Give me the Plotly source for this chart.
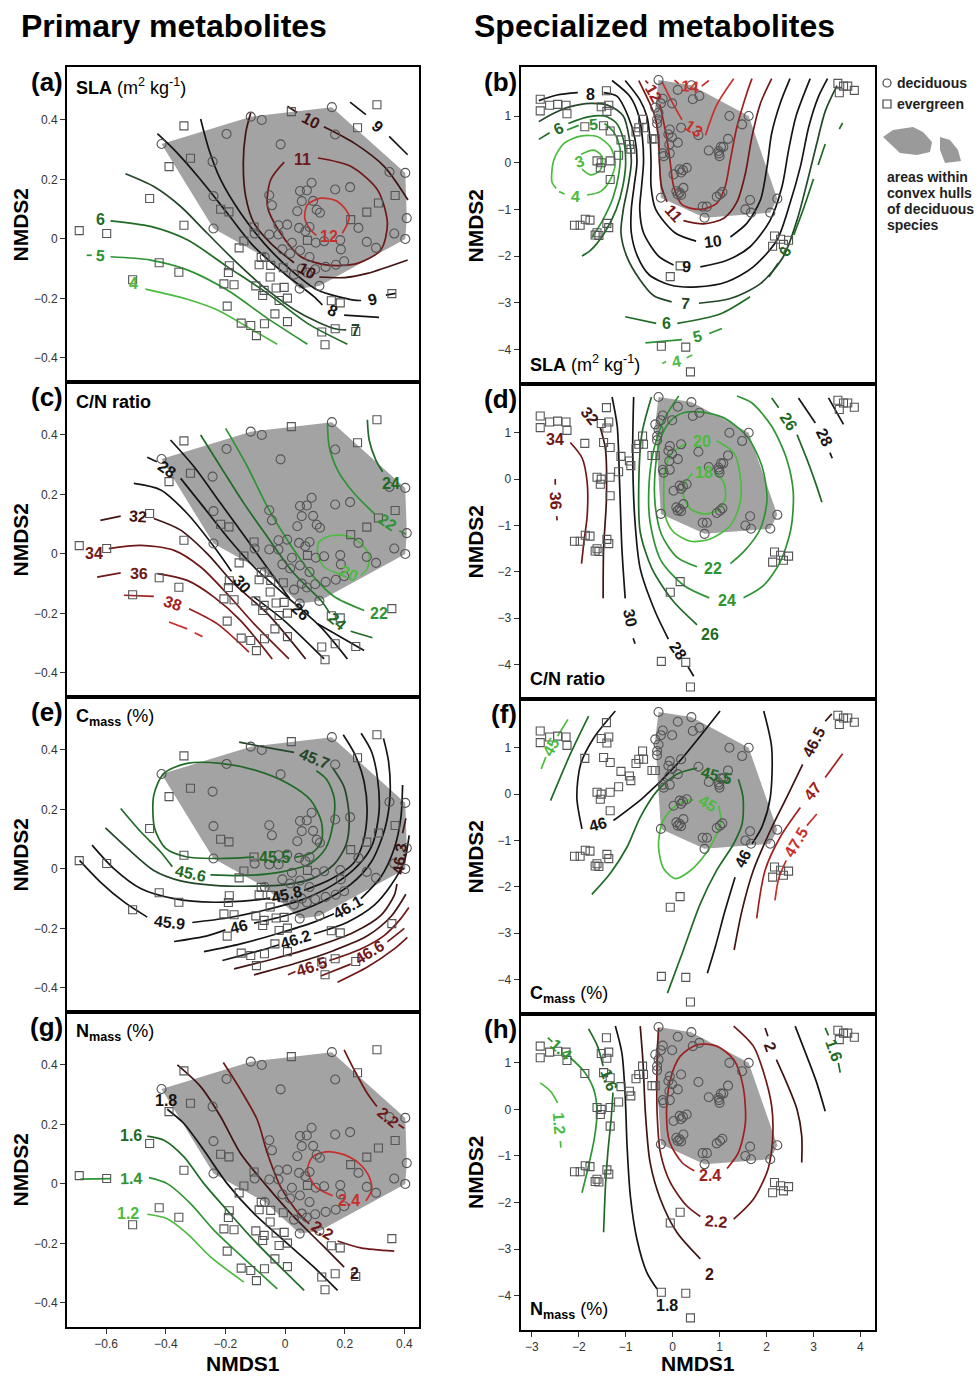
import math
import plotly.graph_objects as go

# ======================= DATA =======================
# --- primary metabolites ordination (left column) ---
PRIM_DECID = [(-0.414,0.319),(-0.115,0.411),(-0.078,0.400),(0.157,0.443),(-0.196,0.353),(-0.015,0.318),
              (0.168,0.351),(-0.243,0.260),(0.403,0.222),(0.350,0.225),(0.089,0.189),(0.050,0.161),
              (0.073,0.163),(0.168,0.166),(0.218,0.174),(-0.053,0.147),(-0.044,0.113),(0.056,0.127),
              (0.094,0.128),(0.041,0.093),(0.106,0.098),(0.117,0.088),(-0.240,0.144),(-0.240,0.035),
              (0.408,0.070),(0.403,0.0),(0.366,0.018),(0.246,0.037),(0.305,-0.030),(-0.022,0.046),
              (0.007,0.048),(0.047,0.037),(0.068,0.026),(0.082,0.040),(-0.053,0.015),(-0.022,0.015),
              (-0.102,0.018),(0.023,-0.013),(-0.009,-0.035),(0.017,-0.049),(0.050,-0.039),(0.103,-0.013),
              (0.131,-0.008),(0.185,-0.004),(0.187,-0.035),(0.274,-0.010),(-0.068,-0.061),(0.082,-0.061),
              (0.056,-0.100),(0.101,-0.102),(0.136,-0.094),(0.170,-0.087),(0.198,-0.075),(0.030,-0.120),
              (0.073,-0.113),(0.049,-0.167),(0.115,-0.158)]
PRIM_EVER = [(-0.690,0.028),(-0.598,0.018),(-0.511,-0.137),(-0.422,-0.080),(-0.356,-0.112),(-0.339,0.046),
             (-0.454,0.136),(-0.389,0.243),(-0.317,0.271),(-0.339,0.380),(0.021,0.428),(0.243,0.374),
             (0.308,0.451),(0.369,0.146),(0.313,0.121),(0.274,0.090),(0.220,0.065),(-0.216,0.100),
             (-0.188,0.091),(-0.104,0.040),(-0.138,-0.007),(-0.154,-0.030),(-0.080,-0.062),(-0.087,-0.087),
             (-0.048,-0.089),(-0.006,-0.097),(-0.187,-0.090),(-0.190,-0.113),(-0.205,-0.151),(-0.171,-0.154),
             (-0.098,-0.158),(-0.070,-0.173),(-0.075,-0.190),(-0.050,-0.128),(-0.030,-0.165),(-0.003,-0.163),
             (-0.020,-0.207),(0.008,-0.199),(-0.194,-0.226),(-0.034,-0.252),(-0.147,-0.283),(-0.115,-0.291),
             (-0.096,-0.325),(-0.069,-0.285),(0.008,-0.278),(0.123,-0.313),(0.168,-0.302),(0.134,-0.356),
             (0.237,-0.311),(0.155,-0.208),(0.185,-0.215),(0.358,-0.184),(0.075,-0.005)]
PRIM_HULL = [(-0.414,0.319),(-0.115,0.411),(0.157,0.443),(0.403,0.222),(0.408,0.070),(0.403,0.0),
             (0.115,-0.158),(0.049,-0.167),(-0.068,-0.061),(-0.240,0.035)]

# --- specialized metabolites ordination (right column) ---
SPEC_DECID = [(-0.30,1.77),(0.11,1.56),(0.40,1.66),(0.57,1.43),(0.43,1.36),(-0.21,1.37),(-0.25,1.27),
              (-0.37,1.18),(-0.01,1.27),(-0.30,1.07),(-0.33,0.93),(-0.33,0.84),(-0.06,0.71),(-0.09,0.61),
              (-0.01,0.54),(0.18,0.75),(0.11,0.43),(-0.07,0.39),(0.55,0.59),(1.21,1.0),(1.62,1.0),
              (1.48,0.82),(1.18,0.51),(0.77,0.26),(1.03,0.34),(1.08,0.34),(0.98,0.25),(1.0,0.14),
              (0.99,0.2),(-0.21,0.2),(-0.19,0.14),(-0.06,0.2),(0.02,-0.25),(0.15,-0.14),(0.22,-0.16),
              (0.30,-0.11),(0.18,-0.21),(0.08,-0.61),(0.15,-0.64),(0.23,-0.54),(0.18,-0.69),(0.11,-0.68),
              (-0.25,-0.75),(0.64,-0.94),(0.73,-0.94),(0.68,-1.18),(1.06,-0.63),(0.94,-0.73),(1.01,-0.68),
              (1.65,-0.8),(1.67,-1.07),(1.55,-1.0),(2.08,-1.07),(2.23,-0.77)]
SPEC_EVER = [(-2.82,1.36),(-2.82,1.11),(-2.62,1.23),(-2.45,1.25),(-2.27,1.23),(-2.25,1.05),(-1.41,1.54),
             (-1.52,1.20),(-1.36,1.23),(-1.40,1.10),(-1.87,0.77),(-1.47,0.79),(-1.33,0.68),(-1.10,0.49),
             (-0.92,0.39),(-0.89,0.29),(-1.15,0.16),(-1.61,0.04),(-1.52,0.0),(-1.54,-0.11),(-1.33,0.04),
             (-1.33,-0.36),(-0.78,0.66),(-0.72,0.75),(-0.64,0.93),(-0.62,0.75),(-0.44,0.51),(-0.37,0.51),
             (-2.09,-1.34),(-1.97,-1.34),(-1.86,-1.21),(-1.76,-1.23),(-1.61,-1.5),(-1.57,-1.56),(-1.65,-1.55),
             (-1.40,-1.30),(-1.36,-1.39),(2.17,-1.57),(2.30,-1.64),(2.47,-1.66),(2.36,-1.75),(2.13,-1.79),
             (0.16,-2.21),(-0.05,-2.44),(-0.24,-3.93),(0.28,-3.95),(0.38,-4.48),(3.52,1.70),(3.64,1.64),
             (3.73,1.64),(3.55,1.50),(3.87,1.55)]
SPEC_HULL = [(-0.30,1.77),(0.40,1.66),(1.62,1.0),(2.23,-0.77),(2.08,-1.07),(0.68,-1.18),(-0.25,-0.75),(-0.37,1.18)]

# --- contour lines (None = break) ---
A_LINES = {
 "4": [(-0.468,-0.169),(-0.328,-0.203),(-0.227,-0.239),(-0.126,-0.296),(-0.026,-0.354)],
 "5": [(-0.665,-0.055),(-0.648,-0.055),None,(-0.585,-0.060),(-0.451,-0.071),(-0.328,-0.104),(-0.194,-0.172),(-0.059,-0.267),(0.075,-0.354)],
 "6": [(-0.585,0.061),(-0.451,0.042),(-0.328,-0.003),(-0.194,-0.093),(-0.059,-0.183),(0.075,-0.284),(0.209,-0.354)],
 "7": [(-0.535,0.219),(-0.440,0.176),(-0.350,0.109),(-0.261,0.019),(-0.171,-0.071),(-0.059,-0.172),(0.053,-0.251),(0.164,-0.301),(0.205,-0.306)],
 "8": [(-0.428,0.354),(-0.372,0.300),(-0.283,0.199),(-0.194,0.087),(-0.104,-0.026),(-0.003,-0.116),(0.097,-0.194),(0.125,-0.222),None,(0.198,-0.256),(0.315,-0.264)],
 "9": [(-0.283,0.403),(-0.255,0.300),(-0.216,0.199),(-0.149,0.087),(-0.070,-0.015),(0.019,-0.104),(0.109,-0.172),(0.232,-0.206),(0.255,-0.207),None,(0.338,-0.189),(0.371,-0.183),
       None,(0.218,0.460),(0.271,0.418),None,(0.349,0.345),(0.411,0.283)],
 "10": [(-0.115,0.424),(-0.132,0.356),(-0.140,0.255),(-0.132,0.143),(-0.104,0.053),(-0.048,-0.015),(0.030,-0.080),None,(0.115,-0.128),(0.200,-0.130),(0.276,-0.116),(0.411,-0.071),
        None,(0.008,0.446),(0.040,0.425),None,(0.130,0.377),(0.232,0.322),(0.332,0.244),(0.412,0.131)],
 "11": [(0.110,0.272),(0.220,0.244),(0.310,0.165),(0.343,0.053),(0.321,-0.037),(0.243,-0.082),(0.142,-0.088),(0.053,-0.060),(-0.015,0.019),(-0.059,0.109),(-0.048,0.199),(-0.003,0.258)],
 "12": [(0.192,0.019),(0.215,0.075),(0.176,0.126),(0.120,0.137),(0.075,0.115),(0.066,0.070),(0.086,0.030),(0.105,0.012)],
}
A_LABELS = {"4": [(-0.507,-0.150)], "5": [(-0.619,-0.057)], "6": [(-0.619,0.064)], "7": [(0.237,-0.309)],
            "8": [(0.158,-0.242)], "9": [(0.293,-0.205),(0.310,0.378)], "10": [(0.072,-0.107),(0.086,0.398)],
            "11": [(0.058,0.266)], "12": [(0.148,0.008)]}

B_LINES = {
 "3": [(-1.95,0.18),(-1.68,0.27),(-1.50,0.13),(-1.54,-0.16),(-1.75,-0.26),(-1.93,-0.14)],
 "4": [(-2.48,-0.55),(-2.57,-0.41),(-2.53,0.06),(-2.32,0.41),(-1.96,0.57),(-1.61,0.56),(-1.33,0.34),(-1.22,-0.01),(-1.33,-0.37),(-1.54,-0.62),(-1.82,-0.69),None,(-2.30,-0.67),(-2.42,-0.62),
       None,(-0.22,-4.30),(-0.14,-4.26),None,(0.30,-4.18),(0.42,-4.12)],
 "5": [(-2.25,0.70),(-2.00,0.80),None,(-1.45,0.84),(-1.25,0.65),(-1.12,0.30),(-1.14,-0.20),(-1.27,-0.75),(-1.50,-1.25),(-1.72,-1.60),
       None,(-0.58,-3.86),(0.20,-3.79),None,(0.78,-3.66),(1.05,-3.55)],
 "6": [(-2.85,0.50),(-2.62,0.64),None,(-2.22,0.84),(-1.80,0.98),(-1.45,1.00),(-1.20,0.85),(-1.05,0.50),(-1.00,0.00),(-1.06,-0.50),(-1.20,-1.00),(-1.45,-1.50),(-1.75,-1.88),(-1.93,-2.00),
       None,(-1.01,-3.30),(-0.35,-3.44),None,(0.10,-3.44),(1.01,-3.24),(1.65,-2.87),
       None,(2.05,-2.45),(2.25,-2.15),None,(2.58,-1.55),(2.80,-0.95),(3.00,-0.35),None,(3.10,-0.05),(3.25,0.40),None,(3.55,0.72),(3.62,0.85)],
 "7": [(-2.85,0.88),(-2.53,1.06),(-2.18,1.20),(-1.75,1.27),(-1.35,1.22),(-1.05,1.00),(-0.92,0.50),(-0.88,0.00),(-0.95,-0.50),(-1.05,-1.00),(-1.10,-1.50),(-0.98,-2.00),(-0.70,-2.50),(-0.40,-2.85),(-0.02,-2.98),
       None,(0.56,-3.01),(1.23,-2.91),(1.87,-2.59),(2.36,-2.01),(2.65,-1.23),(2.86,-0.44),(3.07,0.41),(3.25,1.10),(3.50,1.65)],
 "8": [(-2.85,1.33),(-2.46,1.45),(-2.02,1.50),None,(-1.47,1.50),(-1.18,1.42),(-0.95,1.00),(-0.80,0.50),(-0.76,0.00),(-0.82,-0.50),(-0.88,-1.00),(-0.88,-1.50),(-0.75,-2.00),(-0.50,-2.40),(-0.05,-2.62),
       (0.52,-2.66),(1.16,-2.55),(1.72,-2.23),(2.22,-1.66),(2.50,-0.87),(2.72,-0.09),(2.90,0.77),(3.10,1.40),(3.30,1.80)],
 "9": [(-1.29,1.76),(-0.90,1.41),(-0.72,1.00),(-0.64,0.50),(-0.62,0.00),(-0.66,-0.50),(-0.70,-1.00),(-0.62,-1.50),(-0.30,-2.00),(0.02,-2.19),
       None,(0.59,-2.23),(1.16,-2.09),(1.65,-1.80),(2.08,-1.23),(2.33,-0.51),(2.47,0.27),(2.63,1.00),(2.93,1.80)],
 "10": [(-1.01,1.76),(-0.70,1.35),(-0.55,1.00),(-0.48,0.50),(-0.46,0.00),(-0.46,-0.50),(-0.36,-1.00),(0.05,-1.50),(0.50,-1.68),
        None,(1.23,-1.59),(1.58,-1.30),(1.87,-0.80),(2.01,-0.09),(2.11,0.63),(2.29,1.27),(2.50,1.80)],
 "11": [(-0.72,1.76),(-0.50,1.30),(-0.38,1.00),(-0.30,0.50),(-0.28,0.00),(-0.24,-0.50),(-0.12,-0.84),
        None,(0.23,-1.24),(0.66,-1.31),(1.09,-1.19),(1.37,-0.84),(1.55,-0.23),(1.69,0.56),(1.87,1.27),(2.11,1.80)],
 "12": [(-0.58,1.76),(-0.52,1.70),None,(-0.27,1.25),(-0.12,0.50),(-0.05,0.00),(0.02,-0.50),(0.20,-0.90),(0.60,-1.00),(0.94,-0.87),(1.12,-0.51),(1.23,0.06),(1.37,0.77),(1.58,1.49),(1.69,1.80)],
 "13": [(-0.23,1.74),(0.02,1.24),(0.20,0.92),None,(0.70,0.59),(0.94,1.24),(1.30,1.80)],
 "14": [(0.04,1.77),(0.13,1.69),None,(0.62,1.64),(0.77,1.76)],
}
B_LABELS = {"3": [(-1.98,0.02)], "4": [(-2.07,-0.73),(0.09,-4.26)], "5": [(-1.68,0.81),(0.52,-3.73)],
            "6": [(-2.43,0.74),(-0.12,-3.44),(2.40,-1.91)], "7": [(0.27,-3.01)], "8": [(-1.75,1.46)],
            "9": [(0.30,-2.23)], "10": [(0.87,-1.69)], "11": [(0.02,-1.09)], "12": [(-0.40,1.49)],
            "13": [(0.45,0.74)], "14": [(0.36,1.64)]}

C_LINES = {
 "20": [(0.185,-0.068),(0.131,-0.044),(0.109,0.001),(0.114,0.040),(0.153,0.061),(0.209,0.060),(0.254,0.035),(0.282,-0.004),(0.276,-0.049),(0.254,-0.072)],
 "22": [(-0.199,0.422),(-0.126,0.293),(-0.059,0.158),(0.008,0.046),(0.097,-0.078),(0.164,-0.143),(0.265,-0.190),
        None,(0.142,0.439),(0.148,0.361),(0.176,0.282),(0.232,0.203),(0.300,0.135),None,(0.383,0.078),(0.405,0.066)],
 "24": [(-0.283,0.400),(-0.216,0.293),(-0.138,0.170),(-0.059,0.057),(0.030,-0.066),(0.120,-0.156),(0.150,-0.200),None,(0.220,-0.260),(0.293,-0.282),
        None,(0.276,0.451),(0.282,0.383),(0.304,0.316),(0.327,0.276)],
 "26": [(-0.384,0.383),(-0.305,0.293),(-0.216,0.170),(-0.126,0.046),(-0.037,-0.078),(0.015,-0.150),None,(0.109,-0.235),(0.265,-0.325)],
 "28": [(-0.462,0.325),(-0.430,0.310),None,(-0.350,0.254),(-0.283,0.170),(-0.194,0.057),(-0.104,-0.044),(0.008,-0.145),(0.120,-0.246),(0.209,-0.353)],
 "30": [(-0.507,0.237),(-0.417,0.215),(-0.328,0.136),(-0.238,0.024),(-0.180,-0.058),None,(-0.104,-0.145),(-0.003,-0.224),(0.131,-0.353)],
 "32": [(-0.619,0.113),(-0.551,0.127),None,(-0.440,0.119),(-0.350,0.080),(-0.261,0.001),(-0.171,-0.100),(-0.059,-0.201),(0.069,-0.353)],
 "34": [(-0.591,0.018),(-0.484,0.029),(-0.372,0.012),(-0.283,-0.044),(-0.194,-0.134),(-0.104,-0.235),(0.013,-0.353)],
 "36": [(-0.630,-0.078),(-0.551,-0.064),None,(-0.428,-0.066),(-0.328,-0.089),(-0.238,-0.145),(-0.149,-0.224),(-0.043,-0.353)],
 "38": [(-0.540,-0.139),(-0.440,-0.143),None,(-0.322,-0.184),(-0.227,-0.235),(-0.121,-0.330)],
 "40": [(-0.389,-0.229),(-0.328,-0.252),None,(-0.303,-0.265),(-0.277,-0.278)],
}
C_LABELS = {"20": [(0.215,-0.066)], "22": [(0.315,-0.201),(0.343,0.104)], "24": [(0.175,-0.228),(0.355,0.237)],
            "26": [(0.052,-0.192)], "28": [(-0.395,0.284)], "30": [(-0.143,-0.102)], "32": [(-0.493,0.125)],
            "34": [(-0.641,0.001)], "36": [(-0.490,-0.066)], "38": [(-0.375,-0.165)]}

D_LINES = {
 "18": [(0.87,0.18),(1.09,-0.07),(1.12,-0.43),(0.94,-0.68),(0.66,-0.75),(0.38,-0.64),(0.23,-0.36),(0.27,-0.07),(0.42,0.12)],
 "20": [(0.94,0.82),(1.30,0.57),(1.44,0.07),(1.44,-0.50),(1.23,-1.00),(0.80,-1.29),(0.38,-1.34),(0.02,-1.14),(-0.16,-0.79),(-0.19,-0.29),(-0.16,0.21),(-0.01,0.57),(0.30,0.76)],
 "22": [(1.23,-1.82),(1.51,-1.57),(1.87,-1.07),(2.01,-0.43),(1.90,0.29),(1.58,0.93),(1.09,1.32),(0.66,1.44),(0.23,1.43),(-0.05,1.25),(-0.26,0.86),(-0.37,0.21),(-0.37,-0.57),(-0.23,-1.21),(0.09,-1.68),(0.52,-1.89)],
 "24": [(0.13,1.79),(-0.18,1.29),(-0.40,0.64),(-0.50,-0.07),(-0.48,-0.93),(-0.25,-1.75),(0.25,-2.30),(0.78,-2.56),None,(1.51,-2.56),(1.94,-2.29),(2.29,-1.79),(2.52,-1.07),(2.57,-0.29),(2.43,0.43),(2.11,1.14),(1.69,1.64),(1.37,1.79)],
 "26": [(-0.45,1.77),(-0.65,1.00),(-0.72,-0.07),(-0.69,-1.14),(-0.44,-1.93),(0.02,-2.64),(0.52,-3.14),
        None,(2.11,1.75),(2.26,1.54),None,(2.65,0.96),(2.86,0.43),(3.04,-0.07),(3.18,-0.50)],
 "28": [(-0.83,1.77),(-0.85,0.64),(-0.81,-0.79),(-0.69,-1.93),(-0.37,-2.86),(-0.09,-3.45),None,(0.33,-4.05),(0.45,-4.25),
        None,(2.68,1.75),(3.04,1.21),None,(3.35,0.57),(3.40,0.45)],
 "30": [(-1.29,1.77),(-1.18,1.14),(-1.13,-0.07),(-1.08,-1.50),(-1.01,-2.57),None,(-0.84,-3.43),(-0.80,-3.55),None,(3.32,1.75),(3.64,1.18)],
 "32": [(-1.91,1.57),None,(-1.54,1.11),(-1.43,0.64),(-1.41,-0.43),(-1.47,-1.50),(-1.48,-2.57)],
 "34": [(-2.18,0.79),(-1.93,0.46),(-1.82,-0.07),(-1.82,-0.79),(-1.89,-1.36),(-1.94,-1.82)],
 "36": [(-2.50,0.00),(-2.50,-0.12),None,(-2.47,-0.80),(-2.46,-0.89)],
}
D_LABELS = {"18": [(0.66,0.14)], "20": [(0.62,0.80)], "22": [(0.87,-1.93)], "24": [(1.16,-2.61)],
            "26": [(0.80,-3.36),(2.47,1.25)], "28": [(0.11,-3.70),(3.23,0.89)], "30": [(-0.90,-3.00)],
            "32": [(-1.75,1.36)], "34": [(-2.50,0.86)], "36": [(-2.49,-0.46)]}

E_LINES = {
 "45.5": [(-0.104,0.040),(-0.238,0.035),(-0.328,0.040),(-0.400,0.069),(-0.437,0.136),(-0.440,0.248),(-0.406,0.321),(-0.328,0.355),(-0.216,0.355),(-0.104,0.333),(0.008,0.288),(0.086,0.231),(0.122,0.158),(0.122,0.091),(0.092,0.055),(0.030,0.038)],
 "45.6": [(-0.551,0.203),(-0.484,0.125),(-0.417,0.057),(-0.378,0.007),None,(-0.250,-0.020),(-0.126,-0.022),(-0.003,-0.008),(0.086,0.018),(0.136,0.069),(0.160,0.147),(0.165,0.237),(0.140,0.300),(0.105,0.330)],
 "45.7": [(-0.154,0.426),(-0.059,0.408),(0.030,0.392),None,(0.159,0.340),(0.198,0.275),(0.215,0.170),(0.204,0.080),(0.164,0.015),(0.097,-0.030),(0.008,-0.052),(-0.104,-0.058),(-0.238,-0.055),(-0.350,-0.040),(-0.440,-0.005),(-0.529,0.070),(-0.602,0.138)],
 "45.8": [(-0.647,0.080),(-0.574,0.001),(-0.484,-0.066),(-0.372,-0.100),(-0.238,-0.112),(-0.104,-0.105),(-0.050,-0.098),None,(0.064,-0.072),(0.153,-0.035),(0.230,0.020),(0.262,0.091),(0.275,0.192),(0.265,0.293),(0.235,0.383),(0.195,0.451)],
 "45.9": [(-0.689,0.029),(-0.619,-0.044),(-0.540,-0.111),(-0.462,-0.162),None,(-0.311,-0.180),(-0.194,-0.165),(-0.070,-0.139),(0.053,-0.105),(0.164,-0.052),(0.243,0.010),(0.292,0.080),(0.315,0.192),(0.310,0.304),(0.290,0.394),(0.255,0.456)],
 "46": [(-0.372,-0.244),(-0.261,-0.225),(-0.200,-0.205),None,(-0.104,-0.182),(0.008,-0.155),(0.120,-0.112),(0.220,-0.052),(0.290,0.025),(0.335,0.136),(0.352,0.248),(0.347,0.361),(0.330,0.439)],
 "46.1": [(-0.272,-0.278),(-0.149,-0.252),(-0.026,-0.218),(0.097,-0.179),(0.164,-0.151),None,(0.254,-0.100),(0.321,-0.027),(0.366,0.069),(0.388,0.170),(0.394,0.282)],
 "46.2": [(-0.210,-0.308),(-0.082,-0.274),(-0.020,-0.255),None,(0.097,-0.218),(0.209,-0.179),(0.299,-0.122),(0.355,-0.055),(0.399,0.024),(0.416,0.113)],
 "46.3": [(-0.171,-0.336),(-0.037,-0.302),(0.097,-0.263),(0.232,-0.212),(0.321,-0.156),(0.366,-0.089),(0.375,-0.050),None,(0.394,0.120),(0.405,0.170)],
 "46.4": [(-0.104,-0.356),(0.030,-0.319),(0.164,-0.274),(0.276,-0.225),(0.355,-0.160),(0.405,-0.085)],
 "46.5": [(0.010,-0.356),(0.035,-0.345),None,(0.148,-0.308),(0.254,-0.269),(0.332,-0.224),(0.388,-0.167),(0.415,-0.130)],
 "46.6": [(0.120,-0.360),(0.220,-0.320),None,(0.343,-0.245),(0.400,-0.200)],
 "46.7": [(0.176,-0.381),(0.276,-0.330),(0.366,-0.269),(0.410,-0.230)],
}
E_LABELS = {"45.5": [(-0.037,0.038)], "45.6": [(-0.317,-0.015)], "45.7": [(0.097,0.372)],
            "45.8": [(0.005,-0.085)], "45.9": [(-0.389,-0.180)], "46": [(-0.154,-0.195)],
            "46.1": [(0.209,-0.128)], "46.2": [(0.035,-0.237)], "46.3": [(0.385,0.035)],
            "46.5": [(0.090,-0.328)], "46.6": [(0.282,-0.282)]}

F_LINES = {
 "45": [(-2.80,0.54),(-2.70,0.80),None,(-2.45,1.25),(-2.23,1.61),
        None,(0.98,-0.25),(1.03,-0.57),(0.94,-0.86),(0.70,-1.29),(0.34,-1.68),(0.06,-1.82),(-0.19,-1.61),(-0.30,-1.14),(-0.23,-0.64),(-0.01,-0.32),(0.27,-0.14),(0.45,-0.13)],
 "45.5": [(-2.60,-0.14),(-2.18,0.86),(-1.79,1.68),
          None,(-1.72,-2.16),(-1.33,-1.71),(-0.97,-1.14),(-0.69,-0.50),(-0.33,0.07),(0.09,0.43),(0.52,0.56),None,(1.40,0.32),(1.50,-0.07),(1.48,-0.64),(1.30,-1.07),(0.94,-1.64),(0.59,-2.36),(0.23,-3.36),(-0.11,-4.29)],
 "46": [(-1.22,1.79),(-1.68,1.21),(-1.96,0.64),(-2.04,-0.07),(-1.93,-0.75),None,(-1.26,-0.57),(-0.62,-0.07),(0.09,0.64),(1.01,1.79),
        None,(1.94,1.79),(2.11,1.00),(2.08,-0.07),(1.90,-0.71),(1.69,-1.07),None,(1.33,-1.79),(1.12,-2.50),(0.91,-3.29),(0.74,-3.86)],
 "46.5": [(3.39,1.73),(3.25,1.57),None,(2.77,0.64),(2.43,-0.07),(2.08,-0.79),(1.72,-1.64),(1.48,-2.50),(1.31,-3.36)],
 "47": [(3.62,0.87),(3.25,0.36),None,(2.72,-0.29),(2.29,-0.93),(1.97,-1.64),(1.79,-2.68)],
 "47.5": [(3.07,-0.43),(2.86,-0.68),None,(2.42,-1.43),(2.26,-1.82),(2.18,-2.29)],
}
F_LABELS = {"45": [(-2.58,1.02),(0.75,-0.20)], "45.5": [(0.93,0.41)], "46": [(-1.60,-0.66),(1.50,-1.39)],
            "46.5": [(3.00,1.12)], "47": [(2.98,0.05)], "47.5": [(2.63,-1.05)]}

G_LINES = {
 "1.2": [(-0.462,-0.102),(-0.395,-0.117),(-0.328,-0.167),(-0.249,-0.246),(-0.138,-0.330)],
 "1.4": [(-0.686,0.016),(-0.585,0.018),None,(-0.456,0.021),(-0.395,0.001),(-0.317,-0.066),(-0.238,-0.156),(-0.149,-0.240),(-0.026,-0.353)],
 "1.6": [(-0.462,0.161),(-0.406,0.147),(-0.339,0.091),(-0.272,0.001),(-0.194,-0.089),(-0.104,-0.190),(0.064,-0.358)],
 "1.8": [(-0.395,0.251),(-0.339,0.203),(-0.272,0.113),(-0.194,0.001),(-0.104,-0.100),(0.008,-0.201),(0.097,-0.280),(0.176,-0.358)],
 "2": [(-0.361,0.400),(-0.283,0.327),(-0.216,0.226),(-0.149,0.102),(-0.059,-0.010),(0.030,-0.111),(0.120,-0.201),(0.198,-0.280)],
 "2.2": [(-0.207,0.408),(-0.149,0.316),(-0.093,0.215),(-0.059,0.102),(-0.015,-0.010),(0.041,-0.094),(0.081,-0.134),None,(0.176,-0.192),(0.254,-0.215),(0.366,-0.226),
         None,(0.198,0.451),(0.232,0.383),(0.276,0.304),(0.308,0.260),None,(0.380,0.200),(0.399,0.187)],
 "2.4": [(0.160,-0.040),(0.103,-0.010),(0.075,0.046),(0.092,0.091),(0.136,0.108),(0.192,0.100),(0.248,0.069),(0.282,0.024),(0.290,-0.021),(0.271,-0.057)],
}
G_LABELS = {"1.2": [(-0.525,-0.100)], "1.4": [(-0.518,0.018)], "1.6": [(-0.518,0.164)], "1.8": [(-0.398,0.282)],
            "2": [(0.232,-0.302)], "2.2": [(0.125,-0.158),(0.346,0.224)], "2.4": [(0.215,-0.057)]}

H_LINES = {
 "1.2": [(-2.82,0.57),(-2.60,0.39),(-2.45,0.14),None,(-2.39,-0.68),(-2.38,-0.82)],
 "1.4": [(-2.66,1.54),(-2.56,1.45),None,(-2.18,1.11),(-1.89,0.82),(-1.68,0.43),(-1.61,-0.07),(-1.67,-0.64),(-1.79,-1.21),(-1.93,-1.79)],
 "1.6": [(-1.79,1.73),(-1.60,1.36),(-1.48,0.93),None,(-1.27,0.36),(-1.31,-0.21),(-1.38,-0.93),(-1.43,-1.64),(-1.47,-2.64),
         None,(3.25,1.75),(3.32,1.59),None,(3.53,1.00),(3.57,0.79)],
 "1.8": [(-1.22,1.79),(-1.08,1.21),(-1.01,0.29),(-0.97,-0.79),(-0.90,-1.86),(-0.76,-2.79),(-0.55,-3.50),(-0.33,-3.86),
         None,(2.61,1.79),(2.86,1.14),(3.07,0.57),(3.25,-0.04)],
 "2": [(-0.69,1.79),(-0.63,1.00),(-0.58,-0.07),(-0.48,-1.14),(-0.26,-1.93),(0.09,-2.64),(0.59,-3.21),
       None,(1.97,1.75),(2.03,1.57),None,(2.21,1.07),(2.43,0.57),(2.65,0.00),(2.75,-0.57),(2.75,-1.14)],
 "2.2": [(-0.30,1.75),(-0.33,1.00),(-0.33,-0.07),(-0.26,-0.93),(-0.05,-1.57),(0.30,-2.07),(0.59,-2.30),None,(1.30,-2.36),(1.72,-1.93),(2.03,-1.29),(2.13,-0.64),(2.11,0.07),(1.94,0.79),(1.72,1.36),(1.30,1.79)],
 "2.4": [(1.16,-1.27),(1.40,-0.93),(1.55,-0.29),(1.50,0.50),(1.30,1.07),(0.94,1.36),(0.52,1.39),(0.16,1.14),(-0.05,0.64),(-0.13,-0.07),(-0.06,-0.71),(0.20,-1.14),(0.46,-1.32)],
}
H_LABELS = {"1.2": [(-2.43,-0.29)], "1.4": [(-2.38,1.29)], "1.6": [(-1.36,0.64),(3.44,1.27)], "1.8": [(-0.12,-4.21)],
            "2": [(0.79,-3.54),(2.09,1.34)], "2.2": [(0.92,-2.41)], "2.4": [(0.80,-1.43)]}

TICKS_PRIM_X = [-0.6, -0.4, -0.2, 0, 0.2, 0.4]
TICKS_PRIM_Y = [-0.4, -0.2, 0, 0.2, 0.4]
TICKS_SPEC_X = [-3, -2, -1, 0, 1, 2, 3, 4]
TICKS_SPEC_Y = [-4, -3, -2, -1, 0, 1]

# ======================= STYLE =======================
W, H = 978, 1378
FONT = "Liberation Sans, Arial, sans-serif"
PAL = {'g1': '#4cbb3f', 'g2': '#2e9433', 'g3': '#1f6b26', 'g4': '#24472a', 'k': '#151515',
       'r1': '#411313', 'r2': '#701818', 'r3': '#a02020', 'r4': '#c9302c'}
COL_A = {'4': 'g1', '5': 'g2', '6': 'g3', '7': 'g4', '8': 'k', '9': 'k', '10': 'r1', '11': 'r2', '12': 'r4'}
COL_B = {'3': 'g1', '4': 'g1', '5': 'g2', '6': 'g3', '7': 'g4', '8': 'k', '9': 'k', '10': 'k', '11': 'r2', '12': 'r3', '13': 'r4', '14': 'r4'}
COL_C = {'20': 'g1', '22': 'g2', '24': 'g3', '26': 'k', '28': 'k', '30': 'k', '32': 'r1', '34': 'r2', '36': 'r2', '38': 'r3', '40': 'r4'}
COL_D = {'18': 'g1', '20': 'g1', '22': 'g2', '24': 'g2', '26': 'g3', '28': 'k', '30': 'k', '32': 'r1', '34': 'r2', '36': 'r2'}
COL_E = {'45.5': 'g3', '45.6': 'g3', '45.7': 'g4', '45.8': 'k', '45.9': 'k', '46': 'k', '46.1': 'k', '46.2': 'k',
         '46.3': 'r1', '46.4': 'r1', '46.5': 'r2', '46.6': 'r2', '46.7': 'r2'}
COL_F = {'45': 'g1', '45.5': 'g3', '46': 'k', '46.5': 'r1', '47': 'r3', '47.5': 'r4'}
COL_G = {'1.2': 'g1', '1.4': 'g2', '1.6': 'g3', '1.8': 'k', '2': 'r1', '2.2': 'r2', '2.4': 'r4'}
COL_H = {'1.2': 'g1', '1.4': 'g2', '1.6': 'g3', '1.8': 'k', '2': 'r1', '2.2': 'r2', '2.4': 'r3'}

COL_PX = [(67, 419), (520.5, 874.5)]
ROW_PX = [[(67, 382), (382, 697), (697, 1012), (1012, 1327)],
          [(67, 384), (384, 699), (699, 1014), (1014, 1330)]]
RANGE_X = [(-0.731, 0.449), (-3.24, 4.30)]
RANGE_Y = [(-0.481, 0.578), (-4.74, 2.05)]

PANELS = [
    ('a', 0, 0, A_LINES, A_LABELS, COL_A, "<b>SLA</b> (m<sup>2</sup> kg<sup>-1</sup>)"),
    ('b', 1, 0, B_LINES, B_LABELS, COL_B, "<b>SLA</b> (m<sup>2</sup> kg<sup>-1</sup>)"),
    ('c', 0, 1, C_LINES, C_LABELS, COL_C, "<b>C/N ratio</b>"),
    ('d', 1, 1, D_LINES, D_LABELS, COL_D, "<b>C/N ratio</b>"),
    ('e', 0, 2, E_LINES, E_LABELS, COL_E, "<b>C<sub>mass</sub></b> (%)"),
    ('f', 1, 2, F_LINES, F_LABELS, COL_F, "<b>C<sub>mass</sub></b> (%)"),
    ('g', 0, 3, G_LINES, G_LABELS, COL_G, "<b>N<sub>mass</sub></b> (%)"),
    ('h', 1, 3, H_LINES, H_LABELS, COL_H, "<b>N<sub>mass</sub></b> (%)"),
]


def px(x):
    return x / W


def py(y):
    return 1 - y / H


def split(pts):
    xs, ys = [], []
    for p in pts:
        if p is None:
            xs.append(None); ys.append(None)
        else:
            xs.append(p[0]); ys.append(p[1])
    return xs, ys


def label_angle(pts, lx, ly, sx, sy):
    q = [p for p in pts if p is not None]
    best, bang = 1e9, 0.0
    for a, b in zip(q[:-1], q[1:]):
        ax, ay = a[0] * sx, -a[1] * sy
        bx, by = b[0] * sx, -b[1] * sy
        cx, cy = lx * sx, -ly * sy
        dx, dy = bx - ax, by - ay
        L2 = dx * dx + dy * dy
        if L2 == 0:
            continue
        t = max(0, min(1, ((cx - ax) * dx + (cy - ay) * dy) / L2))
        d = math.hypot(ax + t * dx - cx, ay + t * dy - cy)
        if d < best:
            best = d
            bang = math.degrees(math.atan2(dy, dx))
    if best > 9:
        return 0.0
    while bang > 90:
        bang -= 180
    while bang <= -90:
        bang += 180
    return bang


fig = go.Figure()
annotations = []
shapes = []
layout = {}

for idx, (key, col, row, lines, labels, cols, title) in enumerate(PANELS):
    n = idx + 1
    xa = 'x' if n == 1 else f'x{n}'
    ya = 'y' if n == 1 else f'y{n}'
    x0, x1 = COL_PX[col]
    y0, y1 = ROW_PX[col][row]
    xr, yr = RANGE_X[col], RANGE_Y[col]
    sx = (x1 - x0) / (xr[1] - xr[0])
    sy = (y1 - y0) / (yr[1] - yr[0])
    bottom = (row == 3)
    tfont = dict(family=FONT, size=12, color='#333')
    layout['xaxis' if n == 1 else f'xaxis{n}'] = dict(
        domain=[px(x0), px(x1)], range=list(xr), anchor=ya, showgrid=False, zeroline=False,
        showline=True, mirror=True, linecolor='black', linewidth=2,
        ticks='outside' if bottom else '', ticklen=5, tickcolor='#333',
        tickvals=TICKS_PRIM_X if col == 0 else TICKS_SPEC_X, showticklabels=bottom, tickfont=tfont)
    layout['yaxis' if n == 1 else f'yaxis{n}'] = dict(
        domain=[py(y1), py(y0)], range=list(yr), anchor=xa, showgrid=False, zeroline=False,
        showline=True, mirror=True, linecolor='black', linewidth=2,
        ticks='outside', ticklen=5, tickcolor='#333',
        tickvals=TICKS_PRIM_Y if col == 0 else TICKS_SPEC_Y, tickfont=tfont)

    hull = PRIM_HULL if col == 0 else SPEC_HULL
    hx, hy = split(hull + [hull[0]])
    fig.add_trace(go.Scatter(x=hx, y=hy, mode='lines', fill='toself', fillcolor='#a3a3a3',
                             line=dict(width=0, color='#a3a3a3'), xaxis=xa, yaxis=ya, hoverinfo='skip'))

    for lev, pts in lines.items():
        c = PAL[cols[lev]]
        lx_, ly_ = split(pts)
        fig.add_trace(go.Scatter(x=lx_, y=ly_, mode='lines', line=dict(color=c, width=1.7, shape='spline', smoothing=0.8),
                                 connectgaps=False, xaxis=xa, yaxis=ya, hoverinfo='skip'))
        for (lx, ly) in labels.get(lev, []):
            ang = label_angle(pts, lx, ly, sx, sy)
            annotations.append(dict(x=lx, y=ly, xref=xa, yref=ya, text=f"<b>{lev}</b>", showarrow=False,
                                    textangle=ang, font=dict(family=FONT, size=16, color=c),
                                    xanchor='center', yanchor='middle'))

    dec = PRIM_DECID if col == 0 else SPEC_DECID
    eve = PRIM_EVER if col == 0 else SPEC_EVER
    ex, ey = split(eve)
    fig.add_trace(go.Scatter(x=ex, y=ey, mode='markers', xaxis=xa, yaxis=ya, hoverinfo='skip',
                             marker=dict(symbol='square-open', size=8, color='#555', line=dict(width=1.1, color='#555'))))
    dx_, dy_ = split(dec)
    fig.add_trace(go.Scatter(x=dx_, y=dy_, mode='markers', xaxis=xa, yaxis=ya, hoverinfo='skip',
                             marker=dict(symbol='circle-open', size=9, color='#555', line=dict(width=1.1, color='#555'))))

    # panel letter
    annotations.append(dict(x=px(x0 - 2), y=py(y0 + 15), xref='paper', yref='paper', text=f"<b>({key})</b>",
                            showarrow=False, xanchor='right', yanchor='middle',
                            font=dict(family=FONT, size=26, color='black')))
    # panel title
    if col == 0:
        ty = y0 + 20
    else:
        ty = y1 - 20
    annotations.append(dict(x=px(x0 + 7), y=py(ty), xref='paper', yref='paper', text=title,
                            showarrow=False, xanchor='left', yanchor='middle',
                            font=dict(family=FONT, size=18, color='black')))
    # y title
    annotations.append(dict(x=px(20 if col == 0 else 475), y=py((y0 + y1) / 2), xref='paper', yref='paper',
                            text="<b>NMDS2</b>", showarrow=False, textangle=-90, xanchor='center', yanchor='middle',
                            font=dict(family=FONT, size=21, color='black')))
    if bottom:
        annotations.append(dict(x=px((x0 + x1) / 2), y=py(1363), xref='paper', yref='paper',
                                text="<b>NMDS1</b>", showarrow=False, xanchor='center', yanchor='middle',
                                font=dict(family=FONT, size=21, color='black')))

# column titles
annotations.append(dict(x=px(19), y=py(26), xref='paper', yref='paper', text="<b>Primary metabolites</b>",
                        showarrow=False, xanchor='left', yanchor='middle', font=dict(family=FONT, size=32, color='black')))
annotations.append(dict(x=px(472), y=py(26), xref='paper', yref='paper', text="<b>Specialized metabolites</b>",
                        showarrow=False, xanchor='left', yanchor='middle', font=dict(family=FONT, size=32, color='black')))

# legend
shapes.append(dict(type='circle', xref='paper', yref='paper', x0=px(883), x1=px(891), y0=py(87), y1=py(79),
                   line=dict(color='#444', width=1.2)))
shapes.append(dict(type='rect', xref='paper', yref='paper', x0=px(883), x1=px(891), y0=py(108), y1=py(100),
                   line=dict(color='#444', width=1.2)))
poly1 = [(883, 137), (893, 130), (913, 127), (923, 132), (932, 142), (930, 152), (917, 155), (900, 153)]
poly2 = [(940, 137), (950, 140), (958, 150), (961, 161), (945, 163), (940, 150)]
for poly in (poly1, poly2):
    path = "M " + " L ".join(f"{px(a):.5f},{py(b):.5f}" for a, b in poly) + " Z"
    shapes.append(dict(type='path', xref='paper', yref='paper', path=path, fillcolor='#9a9a9a', line=dict(width=0)))
for text, yy in [("deciduous", 83), ("evergreen", 104)]:
    annotations.append(dict(x=px(895), y=py(yy), xref='paper', yref='paper', text=f"<b>{text}</b>", showarrow=False,
                            xanchor='left', yanchor='middle', font=dict(family=FONT, size=14, color='#222')))
for text, yy in [("areas within", 177), ("convex hulls", 193), ("of deciduous", 209), ("species", 225)]:
    annotations.append(dict(x=px(885), y=py(yy), xref='paper', yref='paper', text=f"<b>{text}</b>", showarrow=False,
                            xanchor='left', yanchor='middle', font=dict(family=FONT, size=14, color='#222')))

fig.update_layout(width=W, height=H, margin=dict(l=0, r=0, t=0, b=0), autosize=False,
                  paper_bgcolor='white', plot_bgcolor='rgba(0,0,0,0)', showlegend=False,
                  annotations=annotations, shapes=shapes, **layout)
fig.write_html("out.html", config={'displayModeBar': False},
               post_script="document.body.style.margin='0';document.body.style.overflow='hidden';")
